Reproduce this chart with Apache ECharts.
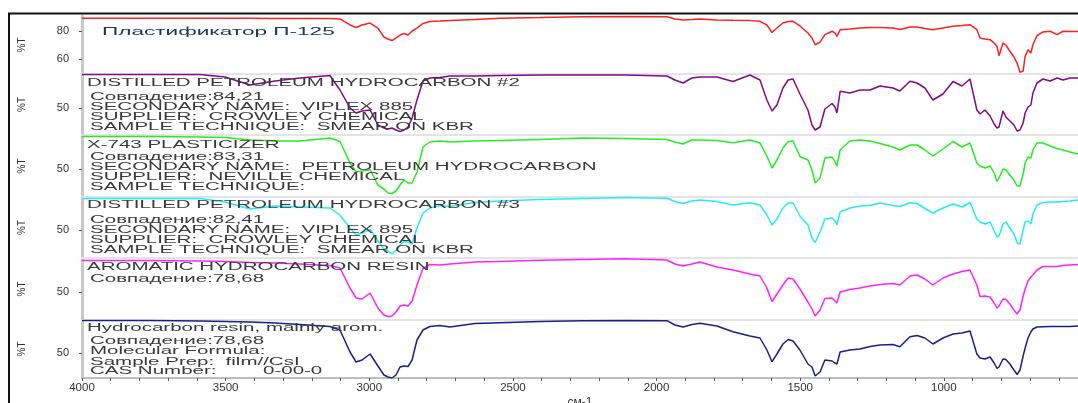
<!DOCTYPE html>
<html><head><meta charset="utf-8">
<script src="https://cdn.jsdelivr.net/npm/echarts@6/dist/echarts.min.js"></script>
<style>html,body{margin:0;padding:0;background:#fff}#c{width:1078px;height:403px}</style>
</head><body><div id="c"></div>
<script>
// Shared wavenumber grid (cm-1)
const wavenumbers = [4000,3763,3589,3502,3415,3328,3241,3137,3102,3067,3046,3025,2997,2970,2949,2935,2921,2907,2893,2879,2865,2851,2834,2813,2789,2754,2719,2632,2545,2406,2256,2110,1964,1936,1908,1877,1849,1790,1734,1675,1640,1616,1598,1581,1560,1542,1525,1501,1473,1459,1448,1431,1414,1389,1379,1372,1361,1327,1292,1257,1222,1177,1153,1118,1093,1066,1038,1003,968,937,909,885,874,857,839,825,815,808,794,784,770,756,745,735,724,717,707,697,690,676,655,630,606,585,561,533];

// %T values for each spectrum
const plasticizerP125 = [89.1,89.1,89.1,89.1,89.1,89.0,89.0,88.9,88.6,84.3,82.5,84.3,85.7,82.1,75.7,74.3,73.2,75.0,77.1,78.2,77.1,80.0,82.1,85.4,86.8,87.1,87.5,88.2,89.1,89.6,90.2,90.4,90.2,88.6,87.9,88.2,88.6,87.9,87.6,87.4,86.9,84.3,78.9,82.1,85.7,86.8,86.9,83.6,78.6,75.0,70.2,72.1,77.4,79.8,78.6,76.2,80.9,81.4,82.1,82.5,82.5,82.1,81.1,82.9,82.9,81.8,80.9,82.1,83.4,83.9,84.5,80.9,75.0,74.3,73.8,71.4,69.1,62.4,71.4,70.0,65.5,61.4,57.1,50.5,51.4,61.9,66.6,64.3,70.2,76.6,79.3,79.8,77.4,79.8,79.6,79.6];
const petroleumHydrocarbon2 = [83.5,83.5,83.5,81,73,77,80,82.5,68,50,45,47,48,33,30,29,30,28,26.5,28,31,40,58,77,80,80.5,82,82,82.5,83,83,83,82,78,75,80,81,81,76.5,83,78,58,47,53,70,78,79,64,48,33,28,31,49,54.5,51,45,66.7,65,68,68,72,70,67,76.7,75,70,58,64,76.5,72,79,48,44,48,42,34,30,31,47,41,37,33,27,28,35,45,51,53,65,75,79,77,80,78,80,80];
const x743Plasticizer = [82.5,82.5,82,81.5,79,78,78,81,77.5,56,47,48,49.3,34,30,26,25.5,28,34,39,36,36,47,72,77,78,77,78,78.5,79.5,81,80.5,79.5,77,75,79,79,78.5,76.3,79,76,63,51,59,71,77.5,78,62.5,59,49,36,41,61,62,57,53,69,78,79,78,75.5,72,69,74,74,69,63,70,77.5,72,76,56,53,51,53,46,37.5,41,50,49,44,39,33,33,45,56,62,61,69,76,76,73,70.5,69,67,65];
const petroleumHydrocarbon3 = [81.5,81.5,81.5,78,71,74,73,72,65,52,45,47,50.5,39,31,29,26,30,35,38.5,38,36,52,67,72,74.5,73.5,77.5,79,80.5,81.5,82.5,81.7,78.5,76.5,79,80,78.5,75,77.3,75,65,55,61,72,77,77,64,55,42,37.5,48,61,62,59,55,68,72,74,74.5,77,74.5,73.5,77.3,76.5,71.5,67,72,76,73,77.5,61,58,56,58,49,43,44,56,58,52,46,37,36,50,58,59,56,66,75,77.5,78,78,78.5,79,80];
const aromaticResin = [81.5,81.5,81,80.5,79.5,79,78,76.5,74,54,44,43,49,34,27,25.5,26,30,36,37,36,41,57,73.5,77.5,77,78,80,80.5,81.7,82.5,83.2,82,78,76,78,80,75,72,68,66,54,40.3,48,57,64,63,53,40,33,26,32,43.5,44,41,39,50,52.5,54,56,57.5,58.5,57,66,67,63,57,64,68,70.5,72,57,45.5,46,45,39,34,36,43,42.5,38,32,28,32,46,53,61,65,67,72,75.5,75.5,75.5,76.5,77,77.5];
const hydrocarbonResin = [82.5,82.5,82,81.5,81,80,78.5,76.5,73,51,41,43,49,37,28,26,25,28,36,37,36.5,43,63,73,76.5,77.5,76,79.5,80.3,81.5,82.3,82.5,82.3,78,76,78.5,79.7,77,71.3,67,65,53,41.3,49,59,63.5,62,53,39,36,27,31,43,42,40,39,51,53,54,56.5,58,58.5,56.3,66.3,67.5,65,59,65,69,70,72,49,45,44,46,40,34.5,36,44,43.5,39,33,28.5,33,47,55,65,71,74,76,76.3,76.5,76.5,76.5,76.5,77];

// Tick labels
const xTickLabels = [4000,3500,3000,2500,2000,1500,1000];
const xMinorTicks = [600,700,800,900,1000,1100,1200,1300,1400,1500,1600,1700,1800,1900,2000,2100,2200,2300,2400,2500,2600,2700,2800,2900,3000,3100,3200,3300,3400,3500,3600,3700,3800,3900,4000];
const yTicksTop = [60,80];
const yTicksOther = [50];
const xAxisName = 'см-1';
const yAxisName = '%T';

// Panel annotations
const notesP1 = ['Пластификатор П-125'];
const notesP2 = ['DISTILLED PETROLEUM HYDROCARBON #2','Совпадение:84,21','SECONDARY NAME:  VIPLEX 885','SUPPLIER:  CROWLEY CHEMICAL','SAMPLE TECHNIQUE:  SMEAR ON KBR'];
const notesP3 = ['X-743 PLASTICIZER','Совпадение:83,31','SECONDARY NAME:  PETROLEUM HYDROCARBON','SUPPLIER:  NEVILLE CHEMICAL','SAMPLE TECHNIQUE:'];
const notesP4 = ['DISTILLED PETROLEUM HYDROCARBON #3','Совпадение:82,41','SECONDARY NAME:  VIPLEX 895','SUPPLIER:  CROWLEY CHEMICAL','SAMPLE TECHNIQUE:  SMEAR ON KBR'];
const notesP5 = ['AROMATIC HYDROCARBON RESIN','Совпадение:78,68'];
const notesP6 = ['Hydrocarbon resin, mainly arom.','Совпадение:78,68','Molecular Formula:','Sample Prep:  film//CsI','CAS Number:'];
const casValue = '0-00-0';

const FONT = 'Liberation Sans, Arial, sans-serif';
const panels = [
  {data: plasticizerP125, color:'#ff2020', top:16, height:58, min:49.3, max:90.7, ticks:yTicksTop},
  {data: petroleumHydrocarbon2, color:'#820a86', top:74, height:61, min:23, max:84, ticks:yTicksOther},
  {data: x743Plasticizer, color:'#22ee22', top:135, height:62, min:22, max:84, ticks:yTicksOther},
  {data: petroleumHydrocarbon3, color:'#22eef2', top:197, height:61, min:22, max:83, ticks:yTicksOther},
  {data: aromaticResin, color:'#ff22ff', top:258, height:62, min:22, max:84, ticks:yTicksOther},
  {data: hydrocarbonResin, color:'#1c1f88', top:320, height:58, min:25, max:83, ticks:yTicksOther}
];
const last = panels.length - 1;

const grids = panels.map(p => ({left:82, right:0, top:p.top, height:p.height, outerBoundsMode:'none', containLabel:false}));
const xAxes = panels.map((p, i) => ({
  type:'value', gridIndex:i, inverse:true, min:533, max:4000,
  splitLine:{show:false},
  axisLine:{show:true, onZero:false, lineStyle:{color: i === last ? '#bdbdbd' : '#e4e4e4', width:2}},
  axisTick:{show: i === last, customValues:xMinorTicks, length:3, lineStyle:{color:'#555'}},
  axisLabel:{show: i === last, customValues:xTickLabels, formatter: v => String(v), margin:4, fontSize:11.5, color:'#333', fontFamily:FONT},
  name: i === last ? xAxisName : '', nameLocation:'middle', nameGap:19,
  nameTextStyle:{fontSize:12, color:'#333', fontFamily:FONT}
}));
const yAxes = panels.map((p, i) => ({
  type:'value', gridIndex:i, min:p.min, max:p.max,
  splitLine:{show:false},
  axisLine:{show:true, onZero:false, lineStyle:{color:'#c8c8c8', width:3}},
  axisTick:{show:true, customValues:p.ticks, length:3, lineStyle:{color:'#555'}},
  axisLabel:{customValues:p.ticks, margin:13, fontSize:11, color:'#333', fontFamily:FONT},
  name:yAxisName, nameLocation:'middle', nameRotate:90, nameGap:55,
  nameTextStyle:{fontSize:10, color:'#333', fontFamily:FONT}
}));
const series = panels.map((p, i) => ({
  type:'line', xAxisIndex:i, yAxisIndex:i, showSymbol:false, symbol:'none',
  lineStyle:{color:p.color, width:1.5}, itemStyle:{color:p.color},
  data: wavenumbers.map((w, j) => [w, p.data[j]])
}));

function note(x, y, text, color, size, sx) {
  return {type:'text', x:x, y:y, scaleX: sx || 2.05, silent:true, z:50,
    style:{text:text, fontSize: size || 10, fontFamily:FONT, fill: color || '#3a3a3a', verticalAlign:'middle', align:'left'}};
}
const graphics = [];
graphics.push({type:'rect', silent:true, z:60, shape:{x:9, y:13.5, width:1200, height:600}, style:{fill:'none', stroke:'#111', lineWidth:2}});
graphics.push(note(102, 32, notesP1[0], '#24355a', 10.5, 2.15));
const blocks = [
  {lines:notesP2, ys:[83.5,97.5,107.5,117.5,127.5]},
  {lines:notesP3, ys:[145,157.5,167.5,177.5,187.5]},
  {lines:notesP4, ys:[205.5,220,230,240,250]},
  {lines:notesP5, ys:[267,279]},
  {lines:notesP6, ys:[328.5,341.5,351.5,362,371.5]}
];
blocks.forEach(b => b.lines.forEach((t, k) => graphics.push(note(k === 0 ? 87 : 90, b.ys[k], t))));
graphics.push(note(263, 371.5, casValue));

const chart = echarts.init(document.getElementById('c'), null, {renderer:'canvas'});
chart.setOption({
  animation:false,
  backgroundColor:'#fff',
  textStyle:{fontFamily:FONT},
  grid:grids, xAxis:xAxes, yAxis:yAxes, series:series,
  graphic:{elements:graphics}
});
</script></body></html>
